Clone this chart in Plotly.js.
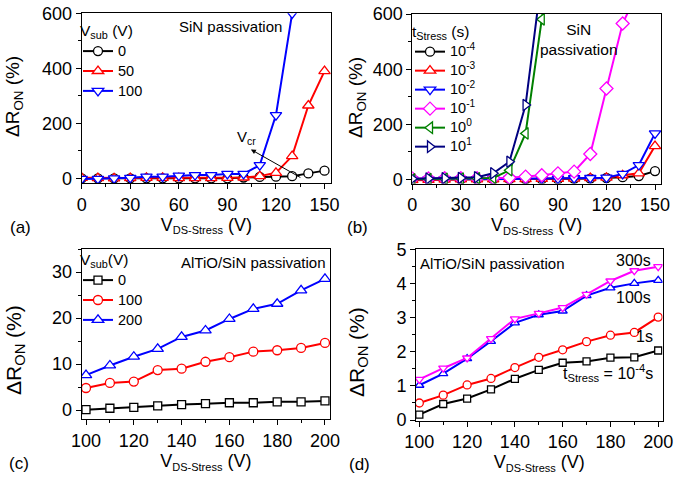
<!DOCTYPE html>
<html>
<head>
<meta charset="utf-8">
<script src="https://cdn.plot.ly/plotly-3.0.1.min.js"></script>
<style>html,body{margin:0;padding:0;background:#fff;}</style>
</head>
<body>
<div id="chart" style="width:689px;height:479px;"></div>
<script>
// ---------- data ----------
// (a) SiN passivation, Vsub series, x = VDS-Stress (V)
const xA = [0,10,20,30,40,50,60,70,80,90,100,110,120,130,140,150];
const aVsub0   = [0,0,0,0,0,0,0,0,0,0,3,5,6,8,18,28];
const aVsub50  = [2,1,0,1,2,2,1,1,1,2,3,8,20,81,265,390];
const xA100    = [0,10,20,30,40,50,60,70,80,90,100,110,120,130];
const aVsub100 = [-2,-2,0,2,6,6,10,12,12,16,16,48,230,600];
const aLegendNames = ['0','50','100'];

// (b) SiN passivation, tStress series
const xB    = [0,10,20,30,40,50,60,70,80,90,100,110,120,130,140,150];
const bTm4  = [0,0,0,0,0,0,0,0,0,0,2,3,5,8,12,30];
const bTm3  = [-3,-2,-1,0,0,0,1,1,2,2,3,5,6,15,22,121];
const bTm2  = [0,0,1,1,1,2,2,2,3,3,4,5,6,20,52,167];
const xBm1  = [0,10,20,30,40,50,60,70,80,90,100,110,120,130,140];
const bTm1  = [3,3,4,4,4,5,6,10,15,22,28,92,330,566,690];
const xB0   = [0,10,20,30,40,50,60,70,80,90];
const bT0   = [0,1,2,3,4,5,33,167,581,1000];
const xB1   = [0,10,20,30,40,50,60,70,80,90];
const bT1   = [2,3,4,5,8,22,64,270,740,1200];
const bLegendNames = ['10<sup>-4</sup>','10<sup>-3</sup>','10<sup>-2</sup>','10<sup>-1</sup>','10<sup>0</sup>','10<sup>1</sup>'];

// (c) AlTiO/SiN passivation, Vsub series
const xC    = [100,110,120,130,140,150,160,170,180,190,200];
const cVsub0   = [0.1,0.4,0.6,0.9,1.2,1.4,1.6,1.6,1.8,1.8,2.0];
const cVsub100 = [4.8,5.9,6.2,8.7,9.0,10.5,11.5,12.7,13.0,13.5,14.6];
const cVsub200 = [7.6,9.7,11.6,13.3,15.9,17.3,19.8,22.0,23.1,26.0,28.5];
const cLegendNames = ['0','100','200'];

// (d) AlTiO/SiN passivation, tStress series
const xD    = [100,110,120,130,140,150,160,170,180,190,200];
const dT1em4 = [0.16,0.47,0.63,0.9,1.21,1.47,1.68,1.72,1.83,1.84,2.04];
const dT1s   = [0.5,0.73,1.03,1.22,1.54,1.84,2.06,2.3,2.49,2.57,3.02];
const dT100s = [1.02,1.36,1.8,2.31,2.85,3.09,3.2,3.65,3.88,4.01,4.1];
const dT300s = [1.19,1.52,1.82,2.39,2.97,3.13,3.3,3.69,4.08,4.38,4.5];
const dLabels = ['t<sub>Stress</sub> = 10<sup>-4</sup>s','1s','100s','300s'];

// ---------- styling ----------
const FONT = 'Liberation Sans, Arial, sans-serif';
const BLACK='#000000', RED='#ff0000', BLUE='#0000ff', MAG='#ff00ff', GREEN='#008000', NAVY='#000080';

function big(s){ return '<span style="font-size:14.5px">' + s + '</span>'; }

function tr(x, y, color, symbol, name, xa, ya, legend, msize, show) {
  return {
    type:'scatter', mode:'lines+markers', x:x, y:y, name:name,
    xaxis:xa, yaxis:ya, legend:legend, showlegend: show,
    line:{color:color, width:2},
    marker:{symbol:symbol, size:msize, color:'#ffffff', line:{color:color, width:1.3}}
  };
}

const data = [
  tr(xA, aVsub0, BLACK, 'circle', big(aLegendNames[0]), 'x','y','legend',9,true),
  tr(xA, aVsub50, RED, 'triangle-up', big(aLegendNames[1]), 'x','y','legend',10,true),
  tr(xA100, aVsub100, BLUE, 'triangle-down', big(aLegendNames[2]), 'x','y','legend',10,true),

  tr(xB, bTm4, BLACK, 'circle', big(bLegendNames[0]), 'x2','y2','legend2',9,true),
  tr(xB, bTm3, RED, 'triangle-up', big(bLegendNames[1]), 'x2','y2','legend2',10,true),
  tr(xB, bTm2, BLUE, 'triangle-down', big(bLegendNames[2]), 'x2','y2','legend2',10,true),
  tr(xBm1, bTm1, MAG, 'diamond', big(bLegendNames[3]), 'x2','y2','legend2',10,true),
  tr(xB0, bT0, GREEN, 'triangle-left', big(bLegendNames[4]), 'x2','y2','legend2',10,true),
  tr(xB1, bT1, NAVY, 'triangle-right', big(bLegendNames[5]), 'x2','y2','legend2',10,true),

  tr(xC, cVsub0, BLACK, 'square', big(cLegendNames[0]), 'x3','y3','legend3',8,true),
  tr(xC, cVsub100, RED, 'circle', big(cLegendNames[1]), 'x3','y3','legend3',9,true),
  tr(xC, cVsub200, BLUE, 'triangle-up', big(cLegendNames[2]), 'x3','y3','legend3',10,true),

  tr(xD, dT1em4, BLACK, 'square', dLabels[0], 'x4','y4','legend',7,false),
  tr(xD, dT1s, RED, 'circle', dLabels[1], 'x4','y4','legend',8,false),
  tr(xD, dT100s, BLUE, 'triangle-up', dLabels[2], 'x4','y4','legend',8,false),
  tr(xD, dT300s, MAG, 'triangle-down', dLabels[3], 'x4','y4','legend',8,false)
];

const W=689, H=479;
function dx(a,b){return [a/W, b/W];}
function dy(top,bottom){return [1-bottom/H, 1-top/H];}

function axis(domain, range, dtick, mdtick, anchor, title, standoff){
  return {
    domain:domain, range:range, anchor:anchor, dtick:dtick, tick0:0,
    showline:true, linecolor:'#000', linewidth:1, mirror:true,
    ticks:'outside', ticklen:5, tickwidth:1, tickcolor:'#000',
    showgrid:false, zeroline:false,
    tickfont:{family:FONT, size:18, color:'#000'},
    minor:{ticks:'outside', ticklen:3, tickwidth:1, tickcolor:'#000', dtick:mdtick, tick0:0, showgrid:false},
    title:{text:title, font:{family:FONT, size:18, color:'#000'}, standoff:standoff}
  };
}
const XT = 'V<sub><span style="font-size:11px">DS-Stress</span></sub> (V)';
const YT = '\u0394R<sub>ON</sub> (%)';

const legendBase = {
  bgcolor:'rgba(0,0,0,0)', borderwidth:0, xanchor:'left', yanchor:'top',
  font:{family:FONT, size:13, color:'#000'}, itemwidth:30, tracegroupgap:0
};

function ytitle(x, y, size){
  return {xref:'paper', yref:'paper', x:x/W, y:1-y/H, xanchor:'center', yanchor:'middle',
          textangle:-90, text:YT, showarrow:false, font:{family:FONT, size:size, color:'#000'}};
}

const layout = {
  width:W, height:H, margin:{l:0,r:0,t:0,b:0},
  paper_bgcolor:'#fff', plot_bgcolor:'#fff',
  font:{family:FONT, color:'#000'},
  showlegend:true,
  xaxis:  axis(dx(81.7,331), [0,154], 30, 15, 'y', XT, 2),
  yaxis:  axis(dy(13.3,183), [-17,600.5], 200, 100, 'x', '', 10),
  xaxis2: axis(dx(412.3,661), [0,153.7], 30, 15, 'y2', XT, 2),
  yaxis2: axis(dy(14,183.5), [-15,600.5], 200, 100, 'x2', '', 10),
  xaxis3: axis(dx(81.7,330), [98.2,202.1], 20, 10, 'y3', XT, 2),
  yaxis3: axis(dy(249,419.3), [-2,35], 10, 5, 'x3', '', 10),
  xaxis4: axis(dx(416,662.5), [98.6,201.8], 20, 10, 'y4', XT, 2),
  yaxis4: axis(dy(249.3,420.7), [-0.02,5.01], 1, 0.5, 'x4', '', 10),
  legend:  Object.assign({}, legendBase, {x:78/W, y:1-16/H, title:{text:'V<sub>sub</sub> (V)', font:{family:FONT,size:15.5}}}),
  legend2: Object.assign({}, legendBase, {x:410/W, y:1-17/H, font:{family:FONT, size:12, color:'#000'}, title:{text:'t<sub>Stress</sub> (s)', font:{family:FONT,size:15.5}}}),
  legend3: Object.assign({}, legendBase, {x:78/W, y:1-245/H, title:{text:'V<sub>sub</sub>(V)', font:{family:FONT,size:15.5}}}),
  annotations: [
    {xref:'paper', yref:'paper', x:8/W, y:1-228/H, xanchor:'left', yanchor:'middle', text:'(a)', showarrow:false, font:{family:FONT,size:17}},
    {xref:'paper', yref:'paper', x:345/W, y:1-228/H, xanchor:'left', yanchor:'middle', text:'(b)', showarrow:false, font:{family:FONT,size:17}},
    {xref:'paper', yref:'paper', x:7/W, y:1-463/H, xanchor:'left', yanchor:'middle', text:'(c)', showarrow:false, font:{family:FONT,size:17}},
    {xref:'paper', yref:'paper', x:347/W, y:1-464/H, xanchor:'left', yanchor:'middle', text:'(d)', showarrow:false, font:{family:FONT,size:17}},

    ytitle(14, 97, 19),
    ytitle(357, 98, 19),
    ytitle(15, 350, 21),
    ytitle(358, 352, 21),

    {xref:'x domain', yref:'y domain', x:0.81, y:0.92, xanchor:'right', yanchor:'middle', text:'SiN passivation', showarrow:false, font:{family:FONT,size:15}},
    {xref:'x2 domain', yref:'y2 domain', x:0.67, y:0.85, xanchor:'center', yanchor:'middle', text:'SiN<br>passivation', showarrow:false, font:{family:FONT,size:15.5}},
    {xref:'x3 domain', yref:'y3 domain', x:0.99, y:0.92, xanchor:'right', yanchor:'middle', text:'AlTiO/SiN passivation', showarrow:false, font:{family:FONT,size:15}},
    {xref:'x4 domain', yref:'y4 domain', x:0.01, y:0.92, xanchor:'left', yanchor:'middle', text:'AlTiO/SiN passivation', showarrow:false, font:{family:FONT,size:15}},

    // V_cr arrow (a)
    {xref:'x', yref:'y', x:104.5, y:105, axref:'x', ayref:'y', ax:136, ay:0, text:'', showarrow:true, arrowhead:2, arrowsize:1, arrowwidth:1, arrowcolor:'#000', standoff:0, startstandoff:0},
    {xref:'x', yref:'y', x:102, y:150, xanchor:'center', yanchor:'middle', text:'V<sub>cr</sub>', showarrow:false, font:{family:FONT,size:15}},

    // (d) labels
    {xref:'x4', yref:'y4', x:198, y:4.69, xanchor:'right', yanchor:'middle', text:dLabels[3], showarrow:false, font:{family:FONT,size:16}},
    {xref:'x4', yref:'y4', x:198, y:3.61, xanchor:'right', yanchor:'middle', text:dLabels[2], showarrow:false, font:{family:FONT,size:16}},
    {xref:'x4', yref:'y4', x:198.6, y:2.44, xanchor:'right', yanchor:'middle', text:dLabels[1], showarrow:false, font:{family:FONT,size:16}},
    {xref:'x4', yref:'y4', x:198.6, y:1.38, xanchor:'right', yanchor:'middle', text:dLabels[0], showarrow:false, font:{family:FONT,size:16}}
  ]
};

Plotly.newPlot('chart', data, layout, {staticPlot:true, displayModeBar:false});
</script>
</body>
</html>
